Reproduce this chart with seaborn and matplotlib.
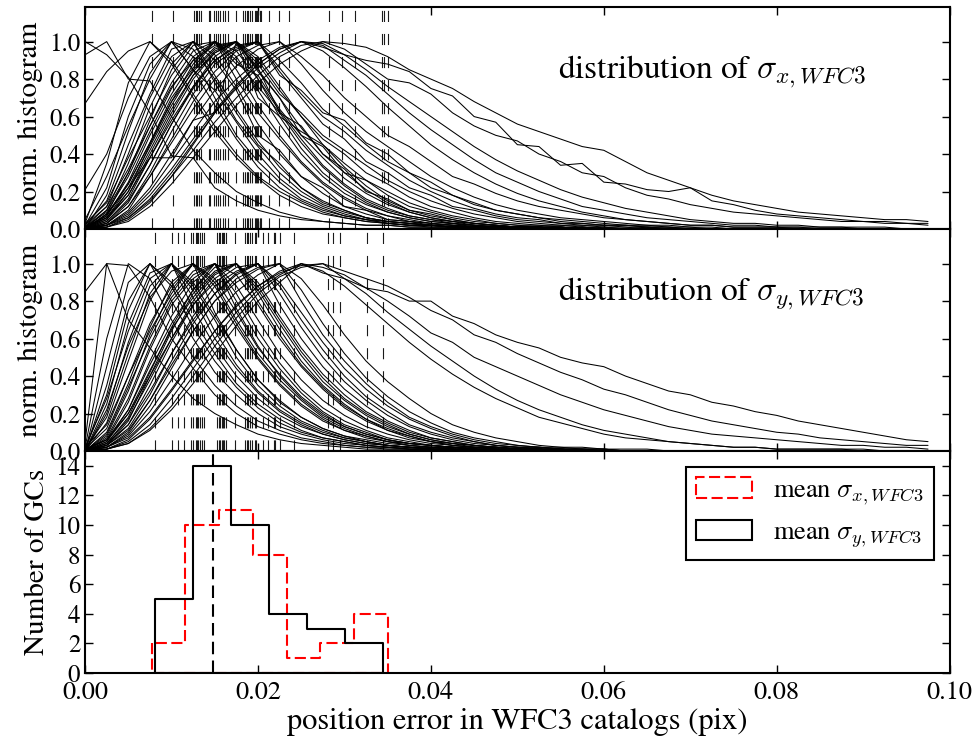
import numpy as np
import pandas as pd
import matplotlib
matplotlib.use("Agg")
import matplotlib.pyplot as plt
import seaborn as sns
from matplotlib.patches import Patch

# ---------------- data ----------------
bin_step = 0.0025  # histogram bin spacing of each per-GC error distribution

# per-GC mean sigma_x (dashed lines, red histogram)
mean_sigma_x = [0.0077, 0.0102,
                0.0126, 0.0128, 0.0130, 0.0132, 0.0134, 0.0143, 0.0145, 0.0149, 0.0152, 0.0154,
                0.0156, 0.0160, 0.0162, 0.0165, 0.0175, 0.0183, 0.0185, 0.0187, 0.0189, 0.0191, 0.0193,
                0.0196, 0.0198, 0.0199, 0.0200, 0.0202, 0.0204, 0.0213, 0.0224,
                0.0236,
                0.0282, 0.0297,
                0.0312, 0.0344, 0.0346, 0.0350]

# per-GC mean sigma_y (dashed lines, black histogram)
mean_sigma_y = [0.0081, 0.0101, 0.0108, 0.0114, 0.0123,
                0.0125, 0.0128, 0.0130, 0.0131, 0.0133, 0.0135, 0.0137, 0.0153, 0.0155, 0.0156,
                0.0158, 0.0159, 0.0161, 0.0163,
                0.0173, 0.0185, 0.0187, 0.0188, 0.0191, 0.0193, 0.0196, 0.0198, 0.0206, 0.0211,
                0.0218, 0.0220, 0.0225, 0.0242,
                0.0281, 0.0287, 0.0295,
                0.0326, 0.0345]

ref_sigma = 0.0148

# normalised histograms of sigma_x per GC (percent of peak)
hist_x = [
    [100,93,81,62,39,38,22,15,10,7, 5,4,3,2,2,1,1,1,0,1, 0,0,0,0,0,0,0,0,0,0, 0,0,0,0,0,0,0,0,0,0],
    [93,100,80,79,60,42,30,20,14,9, 6,4,3,2,2,1,1,1,1,0, 0,1,0,0,0,0,0,0,0,0, 0,0,0,0,0,0,0,0,0,0],
    [67,84,95,100,88,70,52,38,27,18, 12,8,6,4,3,2,2,1,1,1, 0,0,0,1,0,0,0,0,0,0, 0,0,0,0,0,0,0,0,0,0],
    [21,40,70,92,100,85,66,48,33,22, 15,10,7,5,3,2,2,1,1,1, 1,0,0,0,0,0,1,0,0,0, 0,0,0,0,0,0,0,0,0,0],
    [3,35,78,100,90,72,55,40,28,20, 14,9,6,4,3,2,1,1,1,0, 0,0,0,0,0,0,0,0,0,0, 0,0,0,0,0,0,0,0,0,0],
    [2,22,60,88,100,92,70,50,36,25, 16,11,7,5,3,2,2,1,1,1, 1,0,0,0,0,0,0,0,0,0, 0,0,0,0,0,0,0,0,0,0],
    [0,18,52,83,100,85,74,57,40,27, 18,12,8,5,4,3,2,1,1,0, 1,0,0,0,0,0,0,0,0,0, 0,0,0,0,0,0,0,0,0,0],
    [5,28,55,80,100,96,80,62,45,35, 22,14,10,6,4,3,2,2,1,1, 0,0,1,0,0,0,0,0,0,0, 0,0,0,0,0,0,0,0,0,0],
    [1,12,40,70,92,100,82,64,47,33, 22,15,10,6,4,3,2,1,1,1, 1,0,0,0,0,0,0,0,0,0, 0,0,0,0,0,0,0,0,0,0],
    [0,10,35,65,88,100,90,74,50,42, 28,22,12,10,5,4,2,3,1,1, 1,1,0,0,0,0,0,0,0,0, 0,0,0,0,0,0,0,0,0,0],
    [2,15,45,72,96,100,78,58,44,30, 20,13,9,6,4,3,2,1,1,0, 0,0,0,1,0,0,0,0,0,0, 0,0,0,0,0,0,0,0,0,0],
    [0,8,30,58,85,100,93,76,56,40, 28,19,12,8,5,4,3,2,1,1, 1,0,0,0,0,0,0,0,0,0, 0,0,0,0,0,0,0,0,0,0],
    [0,8,22,38,38,58,62,100,70,60, 52,45,35,26,20,14,10,7,5,3, 2,2,1,1,0,0,0,0,0,0, 0,0,0,0,0,0,0,0,0,0],
    [1,10,30,55,78,95,100,85,66,50, 36,25,17,11,7,5,3,2,2,1, 1,0,0,0,0,0,0,0,0,0, 0,0,0,0,0,0,0,0,0,0],
    [0,7,25,50,72,90,100,92,74,56, 40,28,19,13,9,6,4,3,2,1, 1,1,0,0,0,0,0,0,0,0, 0,0,0,0,0,0,0,0,0,0],
    [3,14,38,60,82,98,100,80,62,48, 35,24,16,10,7,4,3,2,1,1, 0,0,1,0,0,0,0,0,0,0, 0,0,0,0,0,0,0,0,0,0],
    [0,5,20,45,68,88,100,95,80,60, 43,30,21,14,9,6,4,3,2,1, 1,1,1,0,0,0,0,0,0,0, 0,0,0,0,0,0,0,0,0,0],
    [0,4,16,38,60,80,94,100,86,62, 55,40,32,20,16,10,8,5,3,2, 1,1,0,0,1,0,0,0,0,0, 0,0,0,0,0,0,0,0,0,0],
    [1,9,28,52,75,92,100,90,76,62, 46,33,23,15,10,7,5,3,2,2, 1,1,0,0,0,0,0,0,0,0, 0,0,0,0,0,0,0,0,0,0],
    [0,6,22,44,66,85,97,100,84,70, 50,44,30,26,18,12,9,6,4,3, 2,1,1,0,0,0,0,0,0,0, 0,0,0,0,0,0,0,0,0,0],
    [2,12,32,55,76,90,98,100,80,63, 48,34,24,16,11,7,5,4,2,1, 1,1,0,0,0,0,0,0,0,0, 0,0,0,0,0,0,0,0,0,0],
    [0,3,14,34,56,76,92,100,90,74, 60,48,40,30,24,17,12,9,6,4, 3,2,2,1,1,0,0,0,0,0, 0,0,0,0,0,0,0,0,0,0],
    [0,8,24,46,70,86,100,88,82,64, 50,38,27,19,13,9,6,4,3,2, 1,1,0,1,0,0,0,0,0,0, 0,0,0,0,0,0,0,0,0,0],
    [0,5,18,40,62,82,95,100,88,72, 62,50,42,34,26,20,15,11,8,6, 4,3,2,2,1,1,0,0,0,0, 0,0,0,0,0,0,0,0,0,0],
    [0,3,12,30,52,72,88,96,100,84, 70,56,48,36,30,22,18,12,10,7, 5,4,3,2,2,1,1,0,0,0, 0,0,0,0,0,0,0,0,0,0],
    [1,7,24,46,68,84,96,100,85,70, 54,40,30,21,14,9,6,4,3,2, 1,1,1,0,0,0,0,0,0,0, 0,0,0,0,0,0,0,0,0,0],
    [0,4,15,34,56,75,90,98,100,86, 72,60,52,42,34,26,20,15,11,8, 6,5,3,3,2,2,1,1,0,0, 0,0,0,0,0,0,0,0,0,0],
    [0,6,20,42,64,82,94,100,92,76, 60,45,33,23,15,10,7,5,3,2, 1,1,1,0,0,0,0,0,0,0, 0,0,0,0,0,0,0,0,0,0],
    [0,2,10,28,48,68,84,95,100,90, 78,64,55,45,36,30,22,18,13,10, 8,6,5,4,3,2,2,1,1,0, 0,0,0,0,0,0,0,0,0,0],
    [1,6,18,38,58,76,90,97,100,82, 74,62,58,46,40,30,25,18,14,10, 8,6,4,3,2,2,1,1,0,0, 0,0,0,0,0,0,0,0,0,0],
    [0,3,12,28,46,64,80,92,98,100, 88,74,62,52,44,36,28,22,17,13, 10,8,6,5,4,3,2,2,1,1, 0,0,0,0,0,0,0,0,0,0],
    [0,2,9,22,40,58,74,87,96,100, 92,82,70,60,50,44,36,28,24,19, 15,12,10,8,6,5,4,3,2,2, 1,1,1,0,0,0,0,0,0,0],
    [0,2,8,20,36,52,68,80,90,97, 100,95,86,76,65,55,45,37,30,24, 19,15,12,9,7,5,4,3,2,2, 1,1,1,1,0,0,0,0,0,0],
    [0,1,6,16,30,46,62,75,86,94, 100,98,90,82,72,62,53,45,37,30, 25,20,16,12,10,8,6,5,4,3, 2,2,1,1,1,1,0,0,0,0],
    [0,2,7,18,32,48,63,77,88,96, 100,97,93,85,76,68,60,52,44,37, 31,26,21,17,14,11,9,7,5,4, 3,3,2,2,1,1,1,1,0,0],
    [0,1,5,14,28,45,62,76,88,96, 100,99,93,90,88,84,75,71,60,57, 45,44,34,35,25,24,21,20,22,15, 13,10,8,7,6,5,4,4,3,3],
    [0,2,6,15,28,42,57,70,82,92, 98,100,96,88,80,78,72,62,55,50, 47,40,36,30,28,22,18,16,13,11, 9,8,7,6,5,4,4,3,3,2],
    [0,1,4,12,24,38,52,66,78,88, 95,100,99,97,92,85,80,75,68,62, 56,52,48,44,42,36,30,26,22,18, 15,13,11,9,8,7,6,5,5,4],
]

# normalised histograms of sigma_y per GC (percent of peak)
hist_y = [
    [85,100,70,55,40,28,20,14,9,6, 4,3,2,1,1,1,0,0,1,0, 0,0,0,0,0,0,0,0,0,0, 0,0,0,0,0,0,0,0,0,0],
    [5,100,99,82,60,44,30,20,13,9, 6,4,3,2,1,1,1,0,0,0, 0,0,1,0,0,0,0,0,0,0, 0,0,0,0,0,0,0,0,0,0],
    [2,60,100,92,70,50,35,24,16,11, 7,5,3,2,2,1,1,0,0,0, 1,0,0,0,0,0,0,0,0,0, 0,0,0,0,0,0,0,0,0,0],
    [0,45,90,100,80,60,42,30,20,13, 9,6,4,3,2,1,1,1,0,0, 0,0,0,0,0,0,0,0,0,0, 0,0,0,0,0,0,0,0,0,0],
    [0,35,80,100,88,66,48,34,23,15, 10,7,5,3,2,1,1,1,0,0, 0,1,0,0,0,0,0,0,0,0, 0,0,0,0,0,0,0,0,0,0],
    [1,30,75,100,90,70,52,36,25,17, 11,7,5,3,2,2,1,1,0,0, 0,0,0,0,0,0,0,0,0,0, 0,0,0,0,0,0,0,0,0,0],
    [0,25,68,95,100,76,56,40,28,19, 13,9,6,4,3,2,1,1,1,0, 0,0,0,0,0,0,0,0,0,0, 0,0,0,0,0,0,0,0,0,0],
    [2,28,64,92,100,82,60,44,31,21, 14,9,6,4,3,2,1,1,0,0, 1,0,0,0,0,0,0,0,0,0, 0,0,0,0,0,0,0,0,0,0],
    [0,20,58,88,100,86,64,46,32,22, 15,10,7,5,3,2,1,1,1,0, 0,0,0,0,0,0,0,0,0,0, 0,0,0,0,0,0,0,0,0,0],
    [1,18,52,84,100,88,70,50,35,24, 16,11,7,5,3,2,2,1,1,0, 0,0,0,0,0,0,0,0,0,0, 0,0,0,0,0,0,0,0,0,0],
    [0,22,56,82,96,100,74,54,38,26, 18,12,8,5,3,2,2,1,1,0, 0,1,0,0,0,0,0,0,0,0, 0,0,0,0,0,0,0,0,0,0],
    [0,15,48,80,100,90,72,54,38,27, 18,12,8,6,4,3,2,1,1,1, 0,0,0,0,0,0,0,0,0,0, 0,0,0,0,0,0,0,0,0,0],
    [0,10,36,66,90,100,84,66,49,35, 24,16,11,7,5,3,2,2,1,1, 0,0,0,0,0,0,0,0,0,0, 0,0,0,0,0,0,0,0,0,0],
    [1,12,40,68,88,100,88,68,50,36, 25,17,11,8,5,3,2,2,1,1, 1,0,0,0,0,0,0,0,0,0, 0,0,0,0,0,0,0,0,0,0],
    [0,8,32,62,86,100,90,70,52,38, 27,18,12,8,5,4,3,2,1,1, 0,0,1,0,0,0,0,0,0,0, 0,0,0,0,0,0,0,0,0,0],
    [0,9,34,60,82,96,100,76,56,40, 28,19,13,9,6,4,3,2,1,1, 1,0,0,0,0,0,0,0,0,0, 0,0,0,0,0,0,0,0,0,0],
    [2,14,40,64,84,100,92,74,55,41, 29,20,13,9,6,4,3,2,1,1, 0,0,0,0,0,0,0,0,0,0, 0,0,0,0,0,0,0,0,0,0],
    [0,7,28,56,80,94,100,80,60,44, 31,21,14,10,6,4,3,2,2,1, 1,0,0,0,0,0,0,0,0,0, 0,0,0,0,0,0,0,0,0,0],
    [0,6,26,54,78,92,100,84,64,47, 33,23,16,11,7,5,3,2,2,1, 1,1,0,0,0,0,0,0,0,0, 0,0,0,0,0,0,0,0,0,0],
    [0,5,22,48,72,90,100,88,70,52, 38,27,19,13,9,6,4,3,2,1, 1,0,0,0,0,0,0,0,0,0, 0,0,0,0,0,0,0,0,0,0],
    [0,4,18,42,66,86,98,100,80,62, 46,34,24,17,11,7,5,3,2,2, 1,1,0,0,0,0,0,0,0,0, 0,0,0,0,0,0,0,0,0,0],
    [1,6,22,46,68,86,100,94,78,60, 45,33,23,16,11,8,5,3,2,2, 1,1,0,0,0,0,0,0,0,0, 0,0,0,0,0,0,0,0,0,0],
    [0,3,16,40,64,84,96,100,84,65, 48,35,25,17,12,8,5,4,2,2, 1,1,1,0,0,0,0,0,0,0, 0,0,0,0,0,0,0,0,0,0],
    [0,5,20,43,65,82,95,100,86,68, 51,37,27,19,13,9,6,4,3,2, 1,1,0,0,0,0,0,0,0,0, 0,0,0,0,0,0,0,0,0,0],
    [0,4,17,38,60,80,94,100,88,70, 53,39,28,20,14,9,6,4,3,2, 1,1,1,0,0,0,0,0,0,0, 0,0,0,0,0,0,0,0,0,0],
    [0,3,14,35,58,78,92,100,90,72, 55,41,30,21,15,10,7,5,3,2, 2,1,1,0,0,0,0,0,0,0, 0,0,0,0,0,0,0,0,0,0],
    [1,6,20,40,60,78,90,98,100,78, 60,45,33,24,16,11,7,5,3,2, 1,1,1,0,0,0,0,0,0,0, 0,0,0,0,0,0,0,0,0,0],
    [0,3,12,30,52,72,88,96,100,84, 66,50,37,27,19,13,9,6,4,3, 2,1,1,1,0,0,0,0,0,0, 0,0,0,0,0,0,0,0,0,0],
    [0,2,10,27,48,68,84,95,100,88, 70,54,40,29,21,14,10,7,5,3, 2,2,1,1,0,0,0,0,0,0, 0,0,0,0,0,0,0,0,0,0],
    [0,4,14,32,52,70,84,94,100,90, 74,58,44,33,24,17,12,8,5,3, 2,2,1,1,1,0,0,0,0,0, 0,0,0,0,0,0,0,0,0,0],
    [0,2,9,24,44,64,80,92,98,100, 80,62,48,36,26,18,13,9,6,4, 3,2,1,1,1,0,0,0,0,0, 0,0,0,0,0,0,0,0,0,0],
    [0,3,11,27,46,64,80,90,97,100, 86,68,52,39,29,21,15,10,7,5, 3,2,2,1,1,0,0,0,0,0, 0,0,0,0,0,0,0,0,0,0],
    [0,2,8,21,38,56,72,85,94,100, 92,78,62,48,37,28,20,14,10,7, 5,3,2,2,1,1,1,0,0,0, 0,0,0,0,0,0,0,0,0,0],
    [0,1,6,17,32,48,64,78,88,96, 100,96,88,78,68,58,49,41,34,28, 23,18,15,12,9,7,6,5,4,3, 2,2,1,1,1,1,0,0,0,0],
    [0,2,7,18,33,49,64,77,88,95, 99,100,92,84,74,65,56,48,40,33, 27,22,18,14,11,9,7,5,4,3, 2,2,1,1,1,1,1,0,0,0],
    [0,1,5,14,28,44,60,74,86,94, 100,98,94,87,80,72,63,58,50,45, 40,35,30,26,22,19,16,13,11,9, 8,7,6,5,4,3,3,2,2,1],
    [0,1,4,12,24,40,56,71,84,93, 98,100,96,92,88,82,75,70,62,58, 52,47,42,38,33,30,26,22,19,16, 14,12,10,9,7,6,5,4,3,3],
    [0,1,4,11,22,36,52,67,80,90, 100,95,92,87,85,80,80,72,68,62, 58,55,50,47,45,40,36,32,30,26, 24,21,19,16,14,12,10,8,6,5],
]

panel_titles = [r"distribution of $\sigma_{x,WFC3}$", r"distribution of $\sigma_{y,WFC3}$"]
legend_labels = [r"mean $\sigma_{x,WFC3}$", r"mean $\sigma_{y,WFC3}$"]


def to_frame(curves):
    rows = []
    for gc, curve in enumerate(curves):
        for k, v in enumerate(curve):
            rows.append((k * bin_step, v / 100.0, gc))
    return pd.DataFrame(rows, columns=["err", "norm", "gc"])


# ---------------- style ----------------
sns.set_style("ticks")
plt.rcParams.update({
    "font.family": ["STIXGeneral", "Liberation Serif", "DejaVu Serif"],
    "mathtext.fontset": "cm",
    "axes.linewidth": 1.5,
    "axes.edgecolor": "black",
    "xtick.direction": "in",
    "ytick.direction": "in",
    "xtick.top": True,
    "ytick.right": True,
    "xtick.major.size": 6,
    "ytick.major.size": 6,
    "xtick.major.width": 1.0,
    "ytick.major.width": 1.0,
    "xtick.major.pad": 6,
    "xtick.color": "black",
    "ytick.color": "black",
    "xtick.labelsize": 19,
    "ytick.labelsize": 18,
    "lines.scale_dashes": False,
    "text.color": "black",
    "axes.labelcolor": "black",
})

fig, axes = plt.subplots(3, 1, figsize=(9.78, 7.42), dpi=100, sharex=True)
fig.subplots_adjust(left=0.087, right=0.971, top=0.9906, bottom=0.093, hspace=0)

for ax, curves, means, title in zip(axes[:2], [hist_x, hist_y], [mean_sigma_x, mean_sigma_y], panel_titles):
    df = to_frame(curves)
    sns.lineplot(data=df, x="err", y="norm", units="gc", estimator=None,
                 color="black", lw=0.75, ax=ax, legend=False)
    for m in means:
        ax.axvline(m, color="0.1", lw=0.8, ls=(0, (8, 8.6)), zorder=1)
    ax.text(0.547, 0.68, title, transform=ax.transAxes, fontsize=24, va="baseline")
    ax.set_ylim(0, 1.185)
    ax.set_yticks([0.0, 0.2, 0.4, 0.6, 0.8, 1.0])
    ax.set_ylabel("norm. histogram", fontsize=21)
    ax.set_xlabel("")

ax3 = axes[2]
sns.histplot(x=mean_sigma_x, bins=7, element="step", fill=True, color="red",
             facecolor="none", edgecolor="red", linestyle=(0, (8, 3.2)), linewidth=1.5, ax=ax3)
sns.histplot(x=mean_sigma_y, bins=6, element="step", fill=True, color="black",
             facecolor="none", edgecolor="black", linewidth=1.5, ax=ax3)
ax3.axvline(ref_sigma, color="black", lw=1.5, ls=(0, (9, 4.5)))
ax3.set_ylim(0, 15)
ax3.set_yticks(range(0, 15, 2))
ax3.set_xlim(0, 0.1)
ax3.set_xticks([0.0, 0.02, 0.04, 0.06, 0.08, 0.10])
ax3.set_ylabel("Number of GCs", fontsize=21)
ax3.set_xlabel("position error in WFC3 catalogs (pix)", fontsize=22, labelpad=2)

handles = [
    Patch(facecolor="none", edgecolor="red", linestyle=(0, (8, 3.2)), linewidth=1.5, label=legend_labels[0]),
    Patch(facecolor="none", edgecolor="black", linewidth=1.5, label=legend_labels[1]),
]
leg = ax3.legend(handles=handles, loc="upper right", fontsize=19, frameon=True, fancybox=False,
                 edgecolor="black", framealpha=1, handlelength=2.1, handleheight=0.8,
                 borderaxespad=0.6)
leg.get_frame().set_linewidth(1.5)

for ax in axes:
    ax.set_xlim(0, 0.1)

fig.savefig("out.png", dpi=100)
